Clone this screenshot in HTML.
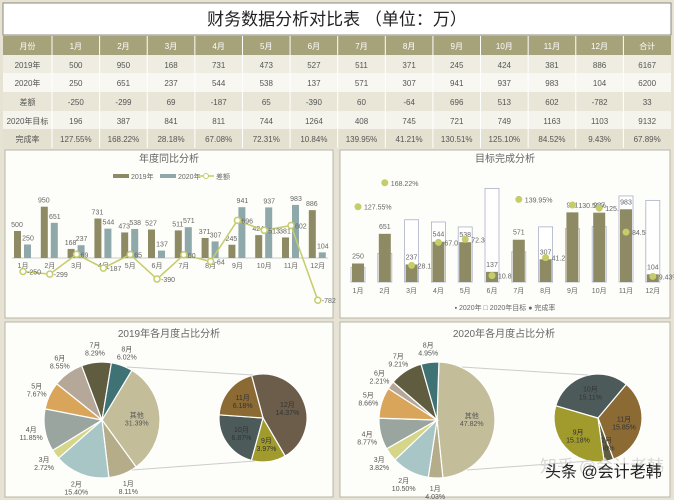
<!DOCTYPE html>
<html><head><meta charset="utf-8"><style>
html,body{margin:0;padding:0;background:#e6e2d4;}
svg{display:block;font-family:"Liberation Sans","Noto Sans CJK SC",sans-serif;}
</style></head><body>
<svg id="s" width="674" height="500" viewBox="0 0 674 500" xmlns="http://www.w3.org/2000/svg">
<rect x="0" y="0" width="674" height="500" fill="#e6e2d4"/>
<rect x="3" y="3" width="668" height="32" fill="#fff" stroke="#8a8a80"/>
<text x="337" y="25" font-size="17" text-anchor="middle" fill="#222">财务数据分析对比表 （单位：万）</text>
<g id="tbl"></g>
<rect x="5" y="150" width="328" height="168" fill="#fdfdf9" stroke="#b8b6a8"/>
<rect x="340" y="150" width="330" height="168" fill="#fdfdf9" stroke="#b8b6a8"/>
<rect x="5" y="322" width="328" height="175" fill="#fdfdf9" stroke="#b8b6a8"/>
<rect x="340" y="322" width="330" height="175" fill="#fdfdf9" stroke="#b8b6a8"/>
<g id="c1"></g><g id="c2"></g><g id="p1"></g><g id="p2"></g>
<text x="540" y="472" font-size="17" fill="#d8d8d8">知乎 @会计老韩</text>
<text x="545" y="477" font-size="16" fill="#222">头条 @会计老韩</text>
</svg>
<script>
const NS="http://www.w3.org/2000/svg";
function el(p,t,a,txt){const e=document.createElementNS(NS,t);for(const k in a)e.setAttribute(k,a[k]);if(txt!==undefined)e.textContent=txt;document.getElementById(p).appendChild(e);return e;}
const m=["1月","2月","3月","4月","5月","6月","7月","8月","9月","10月","11月","12月"];
const y19=[500,950,168,731,473,527,511,371,245,424,381,886];
const y20=[250,651,237,544,538,137,571,307,941,937,983,104];
const df=[-250,-299,69,-187,65,-390,60,-64,696,513,602,-782];
const tg=[196,387,841,811,744,1264,408,745,721,749,1163,1103];
const pc=["127.55%","168.22%","28.18%","67.08%","72.31%","10.84%","139.95%","41.21%","130.51%","125.10%","84.52%","9.43%"];
const rows=[["月份",...m,"合计"],["2019年",...y19,6167],["2020年",...y20,6200],["差额",...df,33],["2020年目标",...tg,9132],["完成率",...pc,"67.89%"]];
const ry=[36,55,73,92,111,129,148];
const rc=["#a6a27a","#efede2","#f8f7f1","#e9e6d7","#f5f4ec","#e4e1d0"];
const cx=[3,52];for(let i=1;i<=13;i++)cx.push(52+i*(619/13));
for(let r=0;r<6;r++){
 el("tbl","rect",{x:3,y:ry[r],width:668,height:ry[r+1]-ry[r],fill:rc[r]});
 for(let c=0;c<14;c++){
  el("tbl","text",{x:(cx[c]+cx[c+1])/2,y:ry[r]+13,"font-size":8,"text-anchor":"middle",fill:r==0?"#fff":"#555"},rows[r][c]);
  if(c>0)el("tbl","line",{x1:cx[c],x2:cx[c],y1:ry[r],y2:ry[r+1],stroke:"#fff","stroke-width":1});
 }
}
// chart 1
el("c1","text",{x:169,y:162,"font-size":10,"text-anchor":"middle",fill:"#666"},"年度同比分析");
el("c1","rect",{x:113,y:174,width:16,height:4,fill:"#8e8a63"});el("c1","text",{x:131,y:179,"font-size":7,fill:"#666"},"2019年");
el("c1","rect",{x:160,y:174,width:16,height:4,fill:"#8fa9ab"});el("c1","text",{x:178,y:179,"font-size":7,fill:"#666"},"2020年");
el("c1","line",{x1:198,x2:214,y1:176,y2:176,stroke:"#c5cc6a","stroke-width":1.5});el("c1","circle",{cx:206,cy:176,r:2.5,fill:"#fff",stroke:"#c5cc6a"});
el("c1","text",{x:216,y:179,"font-size":7,fill:"#666"},"差额");
const b1=258,k1=0.054;
el("c1","line",{x1:12,x2:328,y1:b1,y2:b1,stroke:"#ccc"});
let pts=[];
for(let i=0;i<12;i++){const x=23+i*26.8;
 el("c1","rect",{x:x-9,y:b1-y19[i]*k1,width:7,height:y19[i]*k1,fill:"#8e8a63"});
 el("c1","rect",{x:x+1,y:b1-y20[i]*k1,width:7,height:y20[i]*k1,fill:"#8fa9ab"});
 el("c1","text",{x:x-6,y:b1-y19[i]*k1-4,"font-size":7,"text-anchor":"middle",fill:"#666"},y19[i]);
 el("c1","text",{x:x+5,y:b1-y20[i]*k1-4,"font-size":7,"text-anchor":"middle",fill:"#666"},y20[i]);
 el("c1","text",{x:x,y:b1+10,"font-size":7,"text-anchor":"middle",fill:"#666"},m[i]);
 pts.push([x,b1-df[i]*k1]);}
el("c1","polyline",{points:pts.map(p=>p.join(",")).join(" "),fill:"none",stroke:"#c5cc6a","stroke-width":1.5});
pts.forEach((p,i)=>{el("c1","circle",{cx:p[0],cy:p[1],r:3,fill:"#fff",stroke:"#c5cc6a","stroke-width":1.5});el("c1","text",{x:p[0]+4,y:p[1]+3,"font-size":7,fill:"#666"},df[i]);});
// chart 2
el("c2","text",{x:505,y:162,"font-size":10,"text-anchor":"middle",fill:"#666"},"目标完成分析");
const b2=282,k2=0.074,kp=0.59;
for(let i=0;i<12;i++){const x=358+i*26.8;
 el("c2","rect",{x:x-7,y:b2-tg[i]*k2,width:14,height:tg[i]*k2,fill:"#fff",stroke:"#aab0c8","stroke-width":0.8});
 el("c2","rect",{x:x-6,y:b2-y20[i]*k2,width:12,height:y20[i]*k2,fill:"#8e8a63"});
 el("c2","text",{x:x,y:b2-y20[i]*k2-5,"font-size":7,"text-anchor":"middle",fill:"#666"},y20[i]);
 el("c2","text",{x:x,y:b2+11,"font-size":7,"text-anchor":"middle",fill:"#666"},m[i]);
 const py=b2-parseFloat(pc[i])*kp;
 el("c2","circle",{cx:x,cy:py,r:3.5,fill:"#c5cc6a"});
 el("c2","text",{x:x+6,y:py+3,"font-size":7,fill:"#666"},pc[i]);}
el("c2","text",{x:505,y:310,"font-size":7,"text-anchor":"middle",fill:"#666"},"▪ 2020年  □ 2020年目标  ● 完成率");
// pies
function arc(g,cx,cy,r,a0,a1,fill){const f=a=>[cx+r*Math.sin(a*Math.PI/180),cy-r*Math.cos(a*Math.PI/180)];
 const p0=f(a0),p1=f(a1);el(g,"path",{d:`M${cx},${cy}L${p0[0]},${p0[1]}A${r},${r} 0 ${a1-a0>180?1:0} 1 ${p1[0]},${p1[1]}Z`,fill:fill,stroke:"#fff","stroke-width":1.2});}
function pie(g,ox,title,main,sec,start,sstart){
 el(g,"text",{x:ox+164,y:337,"font-size":10,"text-anchor":"middle",fill:"#666"},title);
 const cx=ox+97,cy=420,r=58,sx=ox+258,sy=418,sr=44;
 let a=start;main.forEach(s=>{const a1=a+s[1]*3.6;arc(g,cx,cy,r,a,a1,s[2]);
  const mid=(a+a1)/2*Math.PI/180;const inside=s[0]=="其他";const rr=inside?r*0.6:r+14;
  const tx=cx+rr*Math.sin(mid),ty=cy-rr*Math.cos(mid);
  el(g,"text",{x:tx,y:ty-1,"font-size":7,"text-anchor":"middle",fill:"#555"},s[0]);
  el(g,"text",{x:tx,y:ty+7,"font-size":7,"text-anchor":"middle",fill:"#555"},s[1].toFixed(2)+"%");a=a1;});
 const tot=sec.reduce((t,s)=>t+s[1],0);
 a=sstart;sec.forEach(s=>{const a1=a+s[1]/tot*360;arc(g,sx,sy,sr,a,a1,s[2]);
  const mid=(a+a1)/2*Math.PI/180;const tx=sx+sr*0.6*Math.sin(mid),ty=sy-sr*0.6*Math.cos(mid);
  el(g,"text",{x:tx,y:ty-1,"font-size":7,"text-anchor":"middle",fill:"#333"},s[0]);
  el(g,"text",{x:tx,y:ty+7,"font-size":7,"text-anchor":"middle",fill:"#333"},s[1].toFixed(2)+"%");a=a1;});
 el(g,"line",{x1:cx+25,y1:cy-53,x2:sx-10,y2:sy-43,stroke:"#ccc"});
 el(g,"line",{x1:cx+30,y1:cy+50,x2:sx-8,y2:sy+43,stroke:"#ccc"});
}
const C={o:"#c3bd9a",m1:"#b5ad8a",m2:"#a9c6c6",m3:"#d6d68a",m4:"#9aa5a0",m5:"#d9a55a",m6:"#b5a898",m7:"#5f5c3f",m8:"#3f7275"};
pie("p1",5,"2019年各月度占比分析",[["其他",31.39,C.o],["1月",8.11,C.m1],["2月",15.40,C.m2],["3月",2.72,C.m3],["4月",11.85,C.m4],["5月",7.67,C.m5],["6月",8.55,C.m6],["7月",8.29,C.m7],["8月",6.02,C.m8]],
 [["12月",14.37,"#6b5d4a"],["9月",3.97,"#a19a2c"],["10月",6.87,"#4c5a5a"],["11月",6.18,"#8b6a34"]],31,-15);
pie("p2",340,"2020年各月度占比分析",[["其他",47.82,C.o],["1月",4.03,C.m1],["2月",10.50,C.m2],["3月",3.82,C.m3],["4月",8.77,C.m4],["5月",8.66,C.m5],["6月",2.21,C.m6],["7月",9.21,C.m7],["8月",4.95,C.m8]],
 [["11月",15.85,"#8b6a34"],["12月",1.68,"#5f5c3f"],["9月",15.18,"#a19a2c"],["10月",15.11,"#4c5a5a"]],2,40);
</script>
</body></html>
